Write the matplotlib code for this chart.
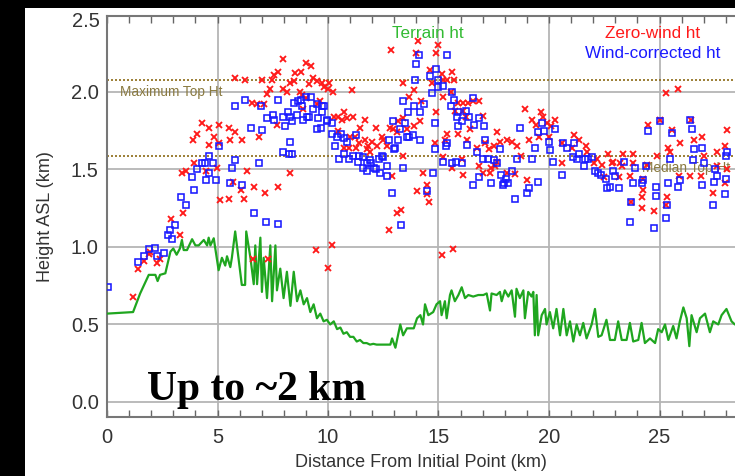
import matplotlib
matplotlib.use("Agg")
import matplotlib.pyplot as plt
from matplotlib.patches import Rectangle

# ---------------- data (km) ----------------
terrain_km = [0.0, 1.18, 1.5, 1.89, 2.19, 2.29, 2.4, 2.64, 2.87, 3.0, 3.15, 3.3, 3.39, 3.47, 3.62,
              3.85, 4.0, 4.15, 4.38, 4.53, 4.6, 4.68, 4.83, 5.05, 5.2, 5.35, 5.43, 5.58, 5.65, 5.8,
              6.1, 6.25, 6.3, 6.49, 6.64, 6.71, 6.79, 6.94, 7.01, 7.09, 7.24, 7.39, 7.47, 7.62,
              7.69, 7.84, 7.99, 8.14, 8.3, 8.45, 8.6, 8.75, 8.9, 9.05, 9.2, 9.35, 9.5, 9.65, 9.8,
              9.95, 10.1, 10.26, 10.41, 10.56, 10.7, 10.85, 11.0, 11.15, 11.3, 11.45, 11.6, 11.75,
              11.9, 12.05, 12.2, 12.35, 12.5, 12.82, 12.9, 13.05, 13.2, 13.27, 13.4, 13.57, 13.88,
              14.03, 14.18, 14.3, 14.39, 14.54, 14.76, 14.91, 15.07, 15.14, 15.29, 15.37, 15.52,
              15.59, 15.74, 15.9, 16.05, 16.2, 16.35, 16.57, 16.8, 17.03, 17.18, 17.33, 17.4,
              17.63, 17.78, 17.86, 18.0, 18.16, 18.31, 18.46, 18.53, 18.68, 18.84, 18.91, 19.06,
              19.21, 19.29, 19.36, 19.44, 19.51, 19.67, 19.82, 19.89, 20.04, 20.19, 20.34, 20.5,
              20.65, 20.8, 20.95, 21.1, 21.25, 21.4, 21.55, 21.7, 21.93, 22.08, 22.23, 22.38,
              22.6, 22.76, 22.98, 23.13, 23.29, 23.51, 23.66, 23.81, 24.04, 24.19, 24.34, 24.57,
              24.8, 24.94, 25.1, 25.25, 25.4, 25.62, 25.77, 25.92, 26.08, 26.23, 26.35, 26.45,
              26.68, 26.83, 27.06, 27.28, 27.43, 27.66, 27.81, 28.03, 28.26, 28.41, 28.6]
terrain_ht = [0.57, 0.58, 0.70, 0.82, 0.82, 0.78, 0.82, 0.83, 0.97, 0.99, 0.95, 0.99, 1.045, 0.98, 0.98,
              1.05, 1.01, 1.01, 1.045, 1.01, 1.06, 1.01, 1.056, 0.85, 0.93, 0.88, 0.94, 0.87, 0.93, 1.10,
              0.755, 0.755, 1.10, 0.93, 0.76, 1.01, 0.76, 1.06, 0.71, 0.93, 0.67, 1.01, 0.65, 1.01,
              0.72, 0.86, 0.67, 0.84, 0.62, 0.84, 0.65, 0.72, 0.63, 0.67, 0.58, 0.63, 0.54, 0.57, 0.52,
              0.53, 0.50, 0.52, 0.47, 0.48, 0.44, 0.45, 0.42, 0.42, 0.39, 0.40, 0.38, 0.38,
              0.37, 0.375, 0.37, 0.37, 0.37, 0.37, 0.41, 0.35, 0.45, 0.50, 0.43, 0.475, 0.475,
              0.54, 0.56, 0.50, 0.63, 0.56, 0.58, 0.63, 0.65, 0.56, 0.65, 0.54, 0.69,
              0.72, 0.65, 0.69, 0.74, 0.67, 0.69, 0.68, 0.69, 0.69, 0.70, 0.59, 0.70,
              0.69, 0.71, 0.65, 0.72, 0.68, 0.72, 0.55, 0.73, 0.67, 0.72, 0.54, 0.71,
              0.68, 0.71, 0.43, 0.69, 0.43, 0.56, 0.60, 0.50, 0.58, 0.475, 0.60, 0.43,
              0.60, 0.43, 0.52, 0.39, 0.50, 0.43, 0.51, 0.41, 0.50, 0.60, 0.42, 0.43,
              0.53, 0.40, 0.40, 0.52, 0.40, 0.40, 0.51, 0.39, 0.40, 0.51, 0.38, 0.41,
              0.38, 0.47, 0.45, 0.50, 0.40, 0.49, 0.41, 0.52, 0.61, 0.54, 0.36, 0.56,
              0.45, 0.54, 0.57, 0.45, 0.52, 0.50, 0.56, 0.60, 0.52, 0.50, 0.50]

# Zero-wind height (red x)
zw_km = [1.16, 1.42, 1.69, 1.9, 1.96, 2.25, 2.4, 6.59, 7.29, 9.46, 9.98, 10.18, 12.78, 15.15, 15.65,
         5.81, 6.26, 7.01, 7.47, 7.39, 7.24, 6.56, 6.79, 7.09, 4.3, 4.6, 5.05, 5.5, 5.81, 4.07, 4.83,
         3.89, 6.11, 6.86, 5.58, 4.6, 5.05, 3.95, 3.39, 3.59, 4.98, 4.5, 6.33, 5.7, 6.64, 6.06, 7.16,
         5.13, 5.5, 6.18, 3.44, 2.9, 3.32,
         7.98, 9.01, 9.22, 7.76, 7.56, 8.51, 8.78, 8.44, 8.28, 9.34, 9.16, 9.49, 9.72, 10.06, 9.82,
         10.02, 10.22, 7.95, 8.13, 8.74, 8.84, 9.01, 11.08, 9.64, 9.49, 8.89, 7.68, 10.47, 10.73,
         10.62, 10.88, 11.15, 11.68, 10.25, 11.45, 10.43, 11.0, 12.18, 11.23, 11.42, 11.68, 11.83,
         11.98, 12.21, 12.43, 12.51, 12.81, 12.93, 13.11, 13.19, 13.41, 13.59, 13.87, 10.73, 10.97,
         11.27, 11.75, 11.9, 12.66, 13.38, 8.28, 7.76, 12.89, 14.02, 14.32, 14.5, 14.47, 14.59,
         13.11, 13.29, 12.84, 14.09, 13.99, 14.89, 14.99, 13.38, 13.9, 13.68, 14.2, 14.62, 14.89,
         14.17, 14.85, 14.7,
         15.15, 15.6, 15.4, 15.71, 15.19, 15.56, 15.19, 15.9, 16.13, 16.35, 16.58, 16.85, 15.75,
         16.1, 16.25, 17.03, 16.43, 15.37, 15.9, 15.3, 16.28, 17.64, 16.73, 17.11, 17.3, 17.49,
         17.79, 18.12, 18.32, 18.57, 18.72, 15.22, 16.05, 15.6, 16.1, 16.85, 17.0, 17.34, 17.37,
         17.56, 17.64, 18.12, 18.47, 18.92, 19.11, 19.0, 19.22, 19.42, 19.63, 19.75, 19.93, 20.08,
         20.28, 19.57, 20.02, 20.58, 20.58, 21.14, 21.36, 21.68, 21.03,
         21.7, 22.15, 22.03, 22.38, 22.68, 22.83, 22.91, 23.36, 23.21, 23.29, 23.81, 23.81, 23.66,
         23.18, 22.49, 24.27, 24.24, 24.19, 24.19, 23.69, 24.75, 24.42, 24.49, 24.9, 25.02, 25.29,
         25.85, 25.55, 25.4, 25.47, 25.92, 25.35, 25.29, 25.9, 26.38, 26.56, 26.91, 26.86, 27.01,
         26.41, 27.58, 27.58, 27.4, 28.04, 27.96, 28.04, 27.96]
zw_ht = [0.68, 0.86, 0.91, 0.955, 0.97, 0.895, 0.92, 0.92, 0.92, 0.98, 0.866, 1.015, 1.11, 0.95, 0.985,
         2.09, 2.08, 2.08, 2.08, 2.02, 1.99, 1.93, 1.92, 1.92, 1.80, 1.77, 1.79, 1.77, 1.74, 1.73, 1.71,
         1.69, 1.69, 1.71, 1.69, 1.66, 1.67, 1.54, 1.48, 1.49, 1.51, 1.49, 1.49, 1.42, 1.39, 1.37, 1.35,
         1.30, 1.31, 1.31, 1.22, 1.18, 1.08,
         2.21, 2.19, 2.17, 2.13, 2.11, 2.12, 2.13, 2.07, 2.06, 2.09, 2.05, 2.07, 2.06, 2.06, 2.03,
         2.02, 2.00, 2.02, 2.00, 2.00, 1.98, 1.96, 2.01, 1.94, 1.92, 1.89, 1.79, 1.84, 1.87,
         1.82, 1.83, 1.84, 1.82, 1.84, 1.77, 1.75, 1.71, 1.77, 1.71, 1.67, 1.69, 1.65,
         1.68, 1.65, 1.71, 1.69, 1.77, 1.76, 1.74, 1.81, 1.83, 1.76, 1.78, 1.64, 1.64,
         1.64, 1.63, 1.61, 1.65, 1.59, 1.48, 1.39, 1.46, 1.36, 1.48, 1.40, 1.34, 1.29,
         1.22, 1.24, 2.27, 2.33, 2.25, 2.25, 2.30, 2.06, 2.01, 1.97, 1.94, 2.14, 1.87,
         1.81, 1.67, 2.06,
         2.115, 2.13, 2.08, 2.08, 2.08, 2.00, 1.965, 1.93, 1.93, 1.93, 1.94, 1.94, 1.88,
         1.88, 1.84, 1.845, 1.76, 1.73, 1.73, 1.69, 1.69, 1.74, 1.64, 1.67, 1.63, 1.65,
         1.68, 1.69, 1.68, 1.65, 1.59, 1.58, 1.57, 1.51, 1.465, 1.52, 1.48, 1.475, 1.51,
         1.52, 1.55, 1.48, 1.47, 1.89, 1.69, 1.43, 1.82, 1.79, 1.87, 1.84, 1.80, 1.78,
         1.82, 1.71, 1.71, 1.67, 1.54, 1.72, 1.69, 1.65, 1.64,
         1.61, 1.565, 1.54, 1.53, 1.60, 1.54, 1.55, 1.60, 1.54, 1.52, 1.60, 1.54, 1.46,
         1.45, 1.45, 1.44, 1.37, 1.325, 1.25, 1.29, 1.23, 1.53, 1.79, 1.59, 1.82, 1.995,
         2.02, 1.755, 1.64, 1.615, 1.67, 1.325, 1.27, 1.46, 1.455, 1.69, 1.71, 1.46, 1.59,
         1.82, 1.615, 1.52, 1.35, 1.755, 1.65, 1.50, 1.41]

# Wind-corrected height (blue squares)
wc_km = [0.03, 1.39, 1.69, 1.9, 2.17, 2.24, 2.59, 2.76, 2.87, 2.94, 3.09,
         5.81, 6.26, 6.98, 7.24, 6.53, 7.01, 5.05, 4.6, 4.3, 4.42, 4.8, 5.81, 6.86, 4.07, 4.6, 5.66,
         3.85, 4.5, 4.95, 5.55, 6.11, 3.95, 3.35, 3.57, 6.64, 7.18,
         7.76, 7.5, 7.56, 7.98, 8.21, 8.28, 8.36, 8.06, 8.47, 8.66, 8.77, 9.01, 9.22, 8.81, 8.59,
         8.86, 9.04, 9.16, 9.31, 9.49, 9.72, 9.82, 9.72, 9.57, 9.49, 9.67, 9.97, 10.19, 10.17, 10.4,
         10.58, 10.73, 10.88, 10.32, 10.52, 10.73, 10.97, 11.12, 11.27, 11.42, 11.38, 11.6, 11.75,
         11.88, 11.6, 11.78, 12.06, 12.18, 11.93, 12.33, 12.43, 12.48, 12.36, 12.66, 12.66, 12.78,
         12.93, 13.04, 13.16, 13.0, 13.26, 13.49, 13.56, 13.68, 13.83, 13.38, 13.64, 13.9, 14.17,
         14.35, 14.7, 13.94, 13.99, 14.14, 14.62, 14.88, 14.99, 14.85, 14.17, 14.85, 13.41, 14.73,
         12.89, 14.47, 13.31, 7.76, 8.28, 7.95, 8.25, 8.36, 9.94, 14.99,
         15.37, 15.19, 15.6, 15.71, 15.56, 16.58, 16.25, 15.86, 15.83, 16.05, 16.4, 16.61, 16.85,
         15.9, 17.06, 15.37, 15.34, 16.31, 17.11, 16.76, 17.79, 18.69, 19.52, 19.67, 19.78, 19.99,
         20.28, 19.37, 20.05, 19.22, 18.57, 20.17, 20.62, 20.8, 21.14, 21.07, 21.26, 21.38, 21.63,
         21.59, 20.58, 17.0, 17.26, 17.49, 17.64, 15.22, 15.6, 15.8, 16.05, 18.32, 17.82, 18.06,
         17.97, 17.91, 18.16, 17.37, 16.58, 16.85, 19.52, 19.11, 19.0, 18.47,
         21.78, 21.93, 22.08, 22.23, 22.34, 22.58, 22.88, 22.98, 22.64, 22.76, 23.18, 23.39, 23.89,
         23.78, 24.19, 24.27, 23.69, 23.66, 24.46, 24.39, 24.84, 24.84, 24.75, 25.02, 25.35, 25.29,
         25.4, 25.47, 25.55, 25.92, 25.85, 26.38, 26.46, 26.56, 26.5, 26.91, 27.01, 26.91, 27.4,
         27.51, 27.58, 27.46, 28.04, 28.01, 28.01, 27.96]
wc_ht = [0.74, 0.90, 0.94, 0.985, 0.995, 0.94, 0.963, 1.08, 1.11, 1.05, 1.14,
         1.91, 1.95, 1.91, 1.83, 1.77, 1.755, 1.65, 1.59, 1.54, 1.54, 1.54, 1.56, 1.54, 1.50, 1.48, 1.51,
         1.45, 1.43, 1.43, 1.41, 1.40, 1.37, 1.325, 1.27, 1.22, 1.16,
         1.95, 1.85, 1.82, 1.84, 1.87, 1.84, 1.81, 1.78, 1.93, 1.94, 1.95, 1.97, 1.97, 1.91, 1.85,
         1.82, 1.84, 1.84, 1.89, 1.92, 1.91, 1.91, 1.87, 1.83, 1.76, 1.77, 1.82, 1.80, 1.73, 1.71,
         1.73, 1.70, 1.68, 1.65, 1.57, 1.60, 1.57, 1.59, 1.72, 1.59, 1.55, 1.58, 1.54,
         1.56, 1.51, 1.49, 1.51, 1.50, 1.54, 1.57, 1.59, 1.58, 1.48, 1.52, 1.46, 1.69,
         1.815, 1.64, 1.69, 1.63, 1.76, 1.80, 1.71, 1.71, 1.72, 1.94, 1.87, 1.91, 1.87,
         1.92, 1.995, 2.08, 2.18, 2.24, 2.10, 2.15, 2.08, 1.80, 1.69, 1.63, 1.51, 1.475,
         1.35, 1.36, 1.14, 1.15, 1.68, 1.61, 1.60, 1.60, 1.81, 2.03,
         2.24, 2.04, 2.00, 1.95, 1.91, 1.96, 1.88, 1.87, 1.84, 1.815, 1.84, 1.79, 1.83,
         1.78, 1.78, 1.67, 1.65, 1.66, 1.69, 1.615, 1.63, 1.77, 1.74, 1.80, 1.75, 1.68,
         1.76, 1.64, 1.625, 1.57, 1.57, 1.55, 1.67, 1.64, 1.67, 1.58, 1.565, 1.60, 1.57,
         1.52, 1.465, 1.57, 1.565, 1.56, 1.54, 1.55, 1.54, 1.55, 1.54, 1.49, 1.465, 1.44,
         1.41, 1.40, 1.415, 1.41, 1.40, 1.45, 1.42, 1.38, 1.35, 1.31,
         1.57, 1.58, 1.49, 1.475, 1.465, 1.44, 1.49, 1.46, 1.38, 1.385, 1.38, 1.55, 1.51,
         1.415, 1.415, 1.43, 1.29, 1.16, 1.75, 1.52, 1.39, 1.33, 1.12, 1.815, 1.27, 1.185,
         1.415, 1.565, 1.735, 1.435, 1.39, 1.82, 1.76, 1.63, 1.56, 1.64, 1.54, 1.40, 1.27,
         1.50, 1.46, 1.42, 1.615, 1.59, 1.44, 1.34]

max_top_ht = 2.08
median_top_ht = 1.587

x_ticks = [0, 5, 10, 15, 20, 25]
y_ticks = [0.0, 0.5, 1.0, 1.5, 2.0]
y_tick_labels = ["0.0", "0.5", "1.0", "1.5", "2.0"]

# ---------------- figure ----------------
fig = plt.figure(figsize=(7.35, 4.76), dpi=100)
fig.patch.set_facecolor("white")
ax = fig.add_axes([107 / 735, 59 / 476, 628 / 735, 401 / 476])

FONT = "Liberation Sans"
TXT = "#333333"
GREEN = "#1fa61f"
RED = "#ff1a1a"
BLUE = "#1a1aff"
OLIVE = "#8a7a40"

ax.set_xlim(0, 628 / 22.1)
ax.set_ylim(-0.097, 2.49)

ax.set_xticks(x_ticks)
ax.set_xticks(range(0, 29), minor=True)
ax.set_xticklabels([str(t) for t in x_ticks], fontsize=14.5, family=FONT, color=TXT)
ax.set_yticks(y_ticks)
ax.set_yticklabels(y_tick_labels, fontsize=14.5, family=FONT, color=TXT)
ax.tick_params(axis="x", which="both", direction="in", top=True, bottom=True,
               length=5, width=1.0, color="#666666", pad=8)
ax.tick_params(axis="y", which="both", length=0, pad=6)

ax.grid(True, which="major", color="#b5b5b5", lw=1.3)
ax.set_axisbelow(True)
for side in ["left", "bottom", "top"]:
    ax.spines[side].set_color("#777777")
    ax.spines[side].set_linewidth(1.5)
ax.spines["right"].set_visible(False)

# reference lines
ax.axhline(max_top_ht, color="#8b6a14", lw=1.2, ls=(0, (1.2, 1.2)), zorder=1.5)
ax.axhline(median_top_ht, color="#8b6a14", lw=1.2, ls=(0, (1.2, 1.2)), zorder=1.5)
ax.text(0.59, 2.0, "Maximum Top Ht", fontsize=9.8, family=FONT, color=OLIVE,
        va="center", ha="left", zorder=1.6)
ax.text(24.2, 1.51, "Median Top Ht", fontsize=9.8, family=FONT, color=OLIVE,
        va="center", ha="left", zorder=1.6)

# terrain
ax.plot(terrain_km, terrain_ht, color=GREEN, lw=1.6, zorder=3)

# scatter
ax.plot(zw_km, zw_ht, ls="none", marker="x", ms=3.8, mew=1.35, color=RED, zorder=4)
ax.plot(wc_km, wc_ht, ls="none", marker="s", ms=4.3, mew=1.15, mfc="none", mec=BLUE, zorder=4)

# legend-like labels
ax.text(14.5, 2.38, "Terrain ht", fontsize=12.3, family=FONT, color="#33bb33",
        ha="center", va="center")
ax.text(24.7, 2.38, "Zero-wind ht", fontsize=12.3, family=FONT, color=RED,
        ha="center", va="center")
ax.text(24.7, 2.25, "Wind-corrected ht", fontsize=12.3, family=FONT, color=BLUE,
        ha="center", va="center")

# top "2.5" label (shifted inside)
ax.text(-0.011, 2.455, "2.5", transform=ax.get_yaxis_transform(), fontsize=14.5,
        family=FONT, color=TXT, ha="right", va="center")

ax.set_xlabel("Distance From Initial Point (km)", fontsize=13, family=FONT, color=TXT)
ax.set_ylabel("Height ASL (km)", fontsize=13, family=FONT, color=TXT)
ax.xaxis.set_label_coords(0.5, -0.092)
ax.yaxis.set_label_coords(-0.085, 0.5)

ax.text(1.81, 0.013, "Up to ~2 km", fontsize=30, family="Liberation Serif",
        fontweight="bold", color="black", ha="left", va="baseline", zorder=6)

# black borders of the screenshot
fig.patches.append(Rectangle((0, 0), 25 / 735, 1, transform=fig.transFigure,
                             facecolor="black", edgecolor="none", zorder=10))
fig.patches.append(Rectangle((0, 1 - 8 / 476), 1, 8 / 476, transform=fig.transFigure,
                             facecolor="black", edgecolor="none", zorder=10))

fig.savefig("out.png", dpi=100)
